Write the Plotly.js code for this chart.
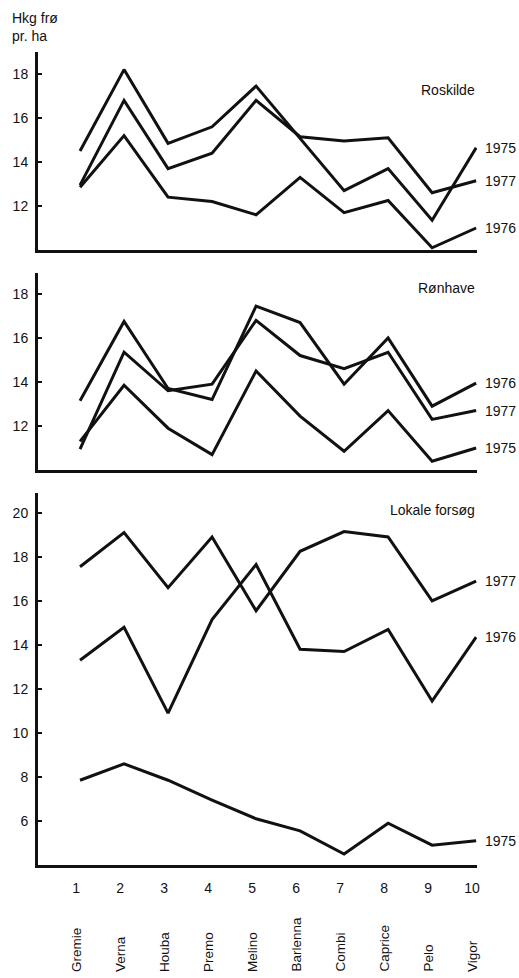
<!DOCTYPE html>
<html>
<head>
<meta charset="utf-8">
<script src="https://cdn.plot.ly/plotly-3.0.1.min.js"></script>
<style>html,body{margin:0;padding:0;background:#fff;}#chart{width:519px;height:978px;}</style>
</head>
<body>
<div id="chart"></div>
<script>
const positions = [1, 2, 3, 4, 5, 6, 7, 8, 9, 10];
const tickLabels = ['1', '2', '3', '4', '5', '6', '7', '8', '9', '10'];
const varieties = ['Gremie', 'Verna', 'Houba', 'Premo', 'Melino', 'Barlenna', 'Combi', 'Caprice', 'Pelo', 'Vigor'];

const roskilde1975 = [14.5, 18.2, 14.85, 15.6, 17.45, 15.1, 12.7, 13.7, 11.35, 14.65];
const roskilde1976 = [12.85, 15.2, 12.4, 12.2, 11.6, 13.3, 11.7, 12.25, 10.1, 11.0];
const roskilde1977 = [12.95, 16.8, 13.7, 14.4, 16.8, 15.15, 14.95, 15.1, 12.6, 13.15];

const ronhave1975 = [11.3, 13.85, 11.9, 10.7, 14.5, 12.45, 10.85, 12.7, 10.4, 11.0];
const ronhave1976 = [13.15, 16.75, 13.7, 13.2, 17.45, 16.7, 13.9, 16.0, 12.9, 13.95];
const ronhave1977 = [10.95, 15.35, 13.6, 13.9, 16.8, 15.2, 14.6, 15.35, 12.3, 12.7];

const lokale1975 = [7.85, 8.6, 7.85, 6.95, 6.1, 5.55, 4.5, 5.9, 4.9, 5.1];
const lokale1976 = [13.3, 14.8, 10.9, 15.15, 17.65, 13.8, 13.7, 14.7, 11.45, 14.35];
const lokale1977 = [17.55, 19.1, 16.6, 18.9, 15.55, 18.25, 19.15, 18.9, 16.0, 16.9];

const panels = [
  {name: 'Roskilde', xa: 'x3', ya: 'y3', series: [['1975', roskilde1975], ['1976', roskilde1976], ['1977', roskilde1977]], titleY: 0.908},
  {name: 'Rønhave', xa: 'x2', ya: 'y2', series: [['1975', ronhave1975], ['1976', ronhave1976], ['1977', ronhave1977]], titleY: 0.7055},
  {name: 'Lokale forsøg', xa: 'x', ya: 'y', series: [['1975', lokale1975], ['1976', lokale1976], ['1977', lokale1977]], titleY: 0.4785}
];

const FONT = '"Liberation Sans", Arial, Helvetica, sans-serif';
const INK = '#111111';
const FS = 14;

const traces = [];
const annotations = [];
panels.forEach(p => {
  p.series.forEach(([yr, vals]) => {
    traces.push({
      x: positions, y: vals, xaxis: p.xa, yaxis: p.ya,
      mode: 'lines', line: {color: INK, width: 3}, name: p.name + ' ' + yr,
      hoverinfo: 'skip'
    });
    annotations.push({
      xref: p.xa, yref: p.ya, x: positions[positions.length - 1], y: vals[vals.length - 1],
      text: yr, showarrow: false, xanchor: 'left', yanchor: 'middle', xshift: 7,
      font: {family: FONT, size: FS, color: INK}
    });
  });
  annotations.push({
    xref: 'paper', yref: 'paper', x: 1, y: p.titleY, text: p.name, showarrow: false,
    xanchor: 'right', yanchor: 'middle', font: {family: FONT, size: FS, color: INK}
  });
});

annotations.push({
  xref: 'paper', yref: 'paper', x: -28 / 439, y: 1 - 8 / 978, xanchor: 'left', yanchor: 'top',
  align: 'left', showarrow: false, text: 'Hkg frø<br>pr. ha',
  font: {family: FONT, size: FS, color: INK}
});

varieties.forEach((v, i) => {
  annotations.push({
    xref: 'x', yref: 'paper', x: positions[i], y: 4 / 978, text: v, textangle: -90,
    showarrow: false, xanchor: 'center', yanchor: 'bottom', xshift: -4,
    font: {family: FONT, size: 13.5, color: INK}
  });
});

const xBase = {
  range: [0.045, 10.02], showgrid: false, zeroline: false, showline: true,
  linecolor: INK, linewidth: 3, ticks: '', fixedrange: true
};
const yBase = {
  showgrid: false, zeroline: false, showline: true, linecolor: INK, linewidth: 3,
  ticks: 'inside', ticklen: 4, tickwidth: 2, tickcolor: INK,
  tickfont: {family: FONT, size: FS, color: INK}, ticklabelstandoff: 4
};

const layout = {
  width: 519, height: 978,
  margin: {l: 38, r: 42, t: 0, b: 0, autoexpand: false},
  paper_bgcolor: '#ffffff', plot_bgcolor: '#ffffff',
  showlegend: false,
  font: {family: FONT, size: FS, color: INK},
  xaxis: Object.assign({}, xBase, {
    anchor: 'y', tickvals: positions, ticktext: tickLabels, showticklabels: true,
    tickfont: {family: FONT, size: FS, color: INK}, ticklabelstandoff: 8, ticklabelshift: -4
  }),
  xaxis2: Object.assign({}, xBase, {anchor: 'y2', matches: 'x', showticklabels: false}),
  xaxis3: Object.assign({}, xBase, {anchor: 'y3', matches: 'x', showticklabels: false}),
  yaxis: Object.assign({}, yBase, {domain: [1 - 865 / 978, 1 - 493 / 978], range: [4, 20.9], tickvals: [6, 8, 10, 12, 14, 16, 18, 20]}),
  yaxis2: Object.assign({}, yBase, {domain: [1 - 470 / 978, 1 - 273 / 978], range: [10, 18.95], tickvals: [12, 14, 16, 18]}),
  yaxis3: Object.assign({}, yBase, {domain: [1 - 250 / 978, 1 - 52 / 978], range: [10, 19], tickvals: [12, 14, 16, 18]}),
  annotations: annotations
};

Plotly.newPlot('chart', traces, layout, {displayModeBar: false, staticPlot: true});
</script>
</body>
</html>
